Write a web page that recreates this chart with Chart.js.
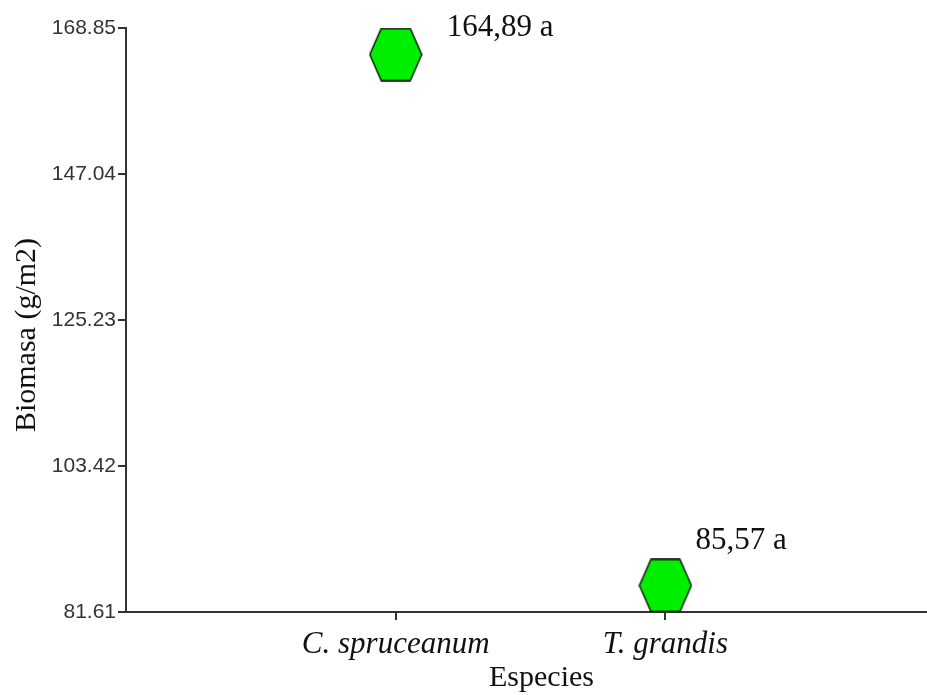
<!DOCTYPE html>
<html>
<head>
<meta charset="utf-8">
<script src="https://cdn.jsdelivr.net/npm/chart.js@4"></script>
<style>
  html, body { margin: 0; padding: 0; background: #ffffff; }
  #wrap { width: 927px; height: 695px; }
</style>
</head>
<body>
<div id="wrap"><canvas id="chart" width="927" height="695"></canvas></div>
<script>
// Biomass per species
const species = ['C. spruceanum', 'T. grandis'];
const biomass = [164.89, 85.57];
const pointLabels = ['164,89 a', '85,57 a'];
const yTicks = [81.61, 103.42, 125.23, 147.04, 168.85];

// Hexagon marker drawn once on an offscreen canvas and used as point style
function makeHexagon(w, h) {
  const c = document.createElement('canvas');
  c.width = w; c.height = h;
  const g = c.getContext('2d');
  const inset = w * 0.23;
  g.beginPath();
  g.moveTo(1, h / 2);
  g.lineTo(inset, 1);
  g.lineTo(w - inset, 1);
  g.lineTo(w - 1, h / 2);
  g.lineTo(w - inset, h - 1);
  g.lineTo(inset, h - 1);
  g.closePath();
  g.fillStyle = '#00ee00';
  g.fill();
  g.lineWidth = 1.3;
  g.strokeStyle = '#000000';
  g.stroke();
  return c;
}
const hexagon = makeHexagon(54, 54);

// Text next to each marker
const valueLabels = {
  id: 'valueLabels',
  afterDatasetsDraw(chart, args, opts) {
    const ctx = chart.ctx;
    const meta = chart.getDatasetMeta(0);
    ctx.save();
    ctx.font = opts.font;
    ctx.fillStyle = opts.color;
    ctx.textAlign = 'left';
    ctx.textBaseline = 'middle';
    meta.data.forEach((pt, i) => {
      const off = opts.offsets[i];
      ctx.fillText(pointLabels[i], pt.x + off[0], pt.y + off[1]);
    });
    ctx.restore();
  }
};

new Chart(document.getElementById('chart'), {
  type: 'scatter',
  data: {
    datasets: [{
      data: biomass.map((v, i) => ({ x: i + 1, y: v })),
      pointStyle: hexagon,
      showLine: false,
      clip: false
    }]
  },
  options: {
    responsive: false,
    animation: false,
    events: [],
    layout: { autoPadding: false, padding: { top: 28, right: 0, bottom: 0, left: 0 } },
    plugins: {
      legend: { display: false },
      tooltip: { enabled: false },
      valueLabels: {
        font: '31px "Liberation Serif", serif',
        color: '#111111',
        offsets: [[51, -27], [30, -45]]
      }
    },
    scales: {
      x: {
        type: 'linear',
        min: 0,
        max: 2.97,
        afterBuildTicks: s => { s.ticks = species.map((_, i) => ({ value: i + 1 })); },
        afterFit: s => { s.height = 83; },
        ticks: {
          autoSkip: false,
          callback: v => species[v - 1] || '',
          font: { family: '"Liberation Serif", serif', size: 31, style: 'italic' },
          color: '#111111',
          padding: 6,
          maxRotation: 0
        },
        grid: { drawOnChartArea: false, drawTicks: true, tickLength: 8, color: '#333333', lineWidth: 2 },
        border: { display: true, color: '#333333', width: 2 },
        title: {
          display: true,
          text: '    Especies',
          font: { family: '"Liberation Serif", serif', size: 30 },
          color: '#111111',
          padding: { top: 0, bottom: -1 }
        }
      },
      y: {
        min: 81.61,
        max: 168.85,
        afterBuildTicks: s => { s.ticks = yTicks.map(v => ({ value: v })); },
        afterFit: s => { s.width = 126; },
        ticks: {
          autoSkip: false,
          callback: v => Number(v).toFixed(2),
          font: { family: '"Liberation Sans", Arial, sans-serif', size: 21 },
          color: '#333333',
          padding: 2
        },
        grid: { drawOnChartArea: false, drawTicks: true, tickLength: 8, color: '#333333', lineWidth: 2 },
        border: { display: true, color: '#333333', width: 2 },
        title: {
          display: true,
          text: 'Biomasa (g/m2)    ',
          font: { family: '"Liberation Serif", serif', size: 30 },
          color: '#111111',
          padding: { top: 9, bottom: 0 }
        }
      }
    }
  },
  plugins: [valueLabels]
});
</script>
</body>
</html>
